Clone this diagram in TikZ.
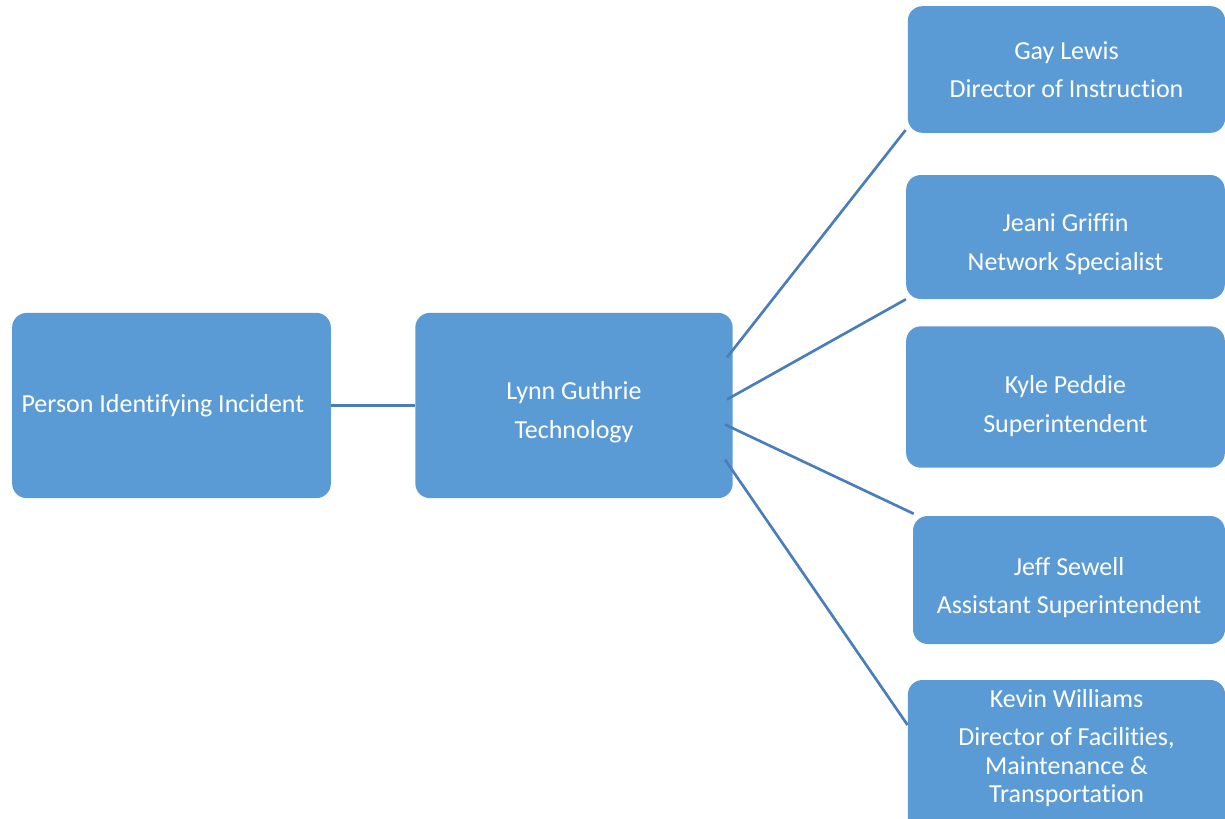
\documentclass[tikz,border=0pt]{standalone}
\usepackage{fontspec}
\setmainfont[Ligatures=NoCommon]{Carlito}
\usetikzlibrary{positioning}

\definecolor{boxblue}{RGB}{91,155,213}
\definecolor{lineblue}{RGB}{74,126,187}

\newcommand{\topgap}[1]{\rule{0pt}{#1}}
\newcommand{\botgap}[1]{\rule[-#1]{0pt}{0pt}}

\tikzset{
    box/.style={fill=boxblue, rounded corners=11pt, text=white, align=center,
        inner sep=0pt, font=\fontsize{19.5}{29}\selectfont},
    link/.style={draw=lineblue, line width=2pt}
}

\begin{document}
\begin{tikzpicture}[x=0.75pt,y=-0.75pt]
    % Frame
    \clip (0,0) rectangle (1225,818);

    % Boxes
    \node[box, minimum width=239pt, minimum height=139pt] (pid) at (171.5,405.5) {\hspace*{-13pt}Person Identifying Incident};
    \node[box, minimum width=238pt, minimum height=139pt] (lynn) at (574,405.5) {\topgap{24pt}Lynn Guthrie\\Technology};

    \node[box, minimum width=238pt, minimum height=95pt] (gay) at (1066.5,69.5) {Gay Lewis\\Director of Instruction};
    \node[box, minimum width=239pt, minimum height=93pt] (jeani) at (1065.5,237) {\topgap{24pt}Jeani Griffin\\Network Specialist};
    \node[box, minimum width=239pt, minimum height=106pt] (kyle) at (1065.5,397) {\topgap{27pt}Kyle Peddie\\Superintendent};
    \node[box, minimum width=234pt, minimum height=96pt] (jeff) at (1069,580) {\topgap{25pt}Jeff Sewell\\Assistant Superintendent};
    \node[box, minimum width=238pt, minimum height=120pt, font=\fontsize{19.5}{21.5}\selectfont] (kevin) at (1066.5,760) {Kevin Williams\\[7pt]Director of Facilities,\\Maintenance \&\\Transportation\botgap{21pt}};

    % Connectors
    \coordinate (s1) at ([shift={(-6,-48)}]lynn.east);
    \coordinate (s2) at ([shift={(-6,-6)}]lynn.east);
    \coordinate (s3) at ([shift={(-8,19)}]lynn.east);
    \coordinate (s4) at ([shift={(-8,54)}]lynn.east);

    \draw[link] (pid) -- (lynn);
    \draw[link] (s1) -- ([shift={(-2,-3)}]gay.south west);
    \draw[link] (s2) -- (jeani.south west);
    \draw[link] (s3) -- ([shift={(1,-2)}]jeff.north west);
    \draw[link] (s4) -- ([shift={(0,-35)}]kevin.west);
\end{tikzpicture}
\end{document}
